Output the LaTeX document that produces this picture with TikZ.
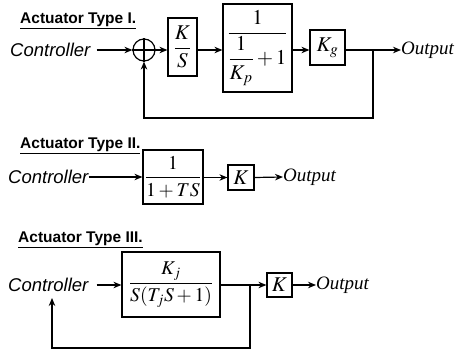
\documentclass[tikz,border=0pt]{standalone}
\usepackage{mathptmx}
\usepackage{fontspec}
\setmainfont{Liberation Serif}
\newfontfamily\titlefont{Liberation Sans}
\usetikzlibrary{arrows.meta}
\tikzset{
 ln/.style={line width=1.2pt},
 blk/.style={draw, ln, inner sep=0pt, font=\fontsize{21}{24}\selectfont},
 blksm/.style={blk, font=\fontsize{19.5}{22}\selectfont},
 arr/.style={ln, -{Stealth[length=8pt,width=6.5pt]}},
 ttl/.style={anchor=west, inner sep=0pt, font=\titlefont\bfseries\fontsize{15.5}{17}\selectfont},
 ctl/.style={anchor=west, inner sep=0pt, font=\titlefont\itshape\fontsize{18.5}{21}\selectfont},
 outp/.style={anchor=west, inner sep=0pt, font=\itshape\fontsize{19}{22}\selectfont},
 sumnode/.style={draw, circle, ln, minimum size=22pt, inner sep=0pt},
}
\begin{document}
\begin{tikzpicture}[x=1pt,y=-1pt]
\useasboundingbox (0,0) rectangle (458,350);
% ---------- Type I ----------
\node[ttl] (t1) at (20,21) {\underline{Actuator Type I.}};
\node[ctl] (c1) at (10,50) {Controller};
\node[sumnode] (sum) at (144,50) {};
\draw[ln] (sum.north)--(sum.south) (sum.west)--(sum.east);
\node[blk, minimum width=29pt, minimum height=58pt] (ks) at (182.5,47) {$\displaystyle\frac{K}{S}$};
\node[blk, minimum width=69pt, minimum height=88pt] (b1) at (257.5,48) {$\displaystyle\frac{1}{\displaystyle\frac{1}{K_p}+1}$};
\node[blk, minimum width=35pt, minimum height=35pt] (kg) at (327.5,47.5) {$K_g$};
\node[outp] (o1) at (401,50) {Output};
\draw[arr, shorten <=6pt] (c1.east) -- (sum.west);
\draw[arr] (sum.east) -- (sum.east -| ks.west);
\draw[arr] (ks.east |- sum.east) -- (sum.east -| b1.west);
\draw[arr] (b1.east |- sum.east) -- (sum.east -| kg.west);
\draw[arr] (kg.east |- sum.east) -- (o1.west);
\coordinate (fb1) at (373,50);
\coordinate (fb1b) at (373,118);
\draw[arr] (fb1) -- (fb1b) -| (sum.south);
% ---------- Type II ----------
\node[ttl] (t2) at (20,146) {\underline{Actuator Type II.}};
\node[ctl] (c2) at (8,177) {Controller};
\node[blksm, minimum width=60pt, minimum height=54pt] (b2) at (173,177) {$\displaystyle\frac{1}{1+TS}$};
\node[blk, minimum width=26pt, minimum height=25pt] (k2) at (241,177.5) {$K$};
\node[outp] (o2) at (283,177) {Output};
\draw[arr] (c2.east) -- (c2.east -| b2.west);
\draw[arr] (b2.east |- k2.west) -- (k2.west);
\draw[arr] (k2.east) -- (o2.west);
% ---------- Type III ----------
\node[ttl] (t3) at (18,240) {\underline{Actuator Type III.}};
\node[ctl] (c3) at (8,285) {Controller};
\node[blksm, minimum width=98pt, minimum height=65pt] (b3) at (171,284.5) {$\displaystyle\frac{K_j}{S(T_jS+1)}$};
\node[blk, minimum width=25pt, minimum height=24pt] (k3) at (279.5,285) {$K$};
\node[outp] (o3) at (316,285) {Output};
\draw[arr, shorten <=8pt] (c3.east) -- (c3.east -| b3.west);
\draw[arr] (b3.east |- k3.west) -- (k3.west);
\draw[arr] (k3.east) -- (o3.west);
\coordinate (fb3) at (250,285);
\coordinate (fb3b) at (250,348);
\coordinate (c3a) at (52,298);
\draw[arr] (fb3) -- (fb3b) -| (c3a);
\end{tikzpicture}
\end{document}
